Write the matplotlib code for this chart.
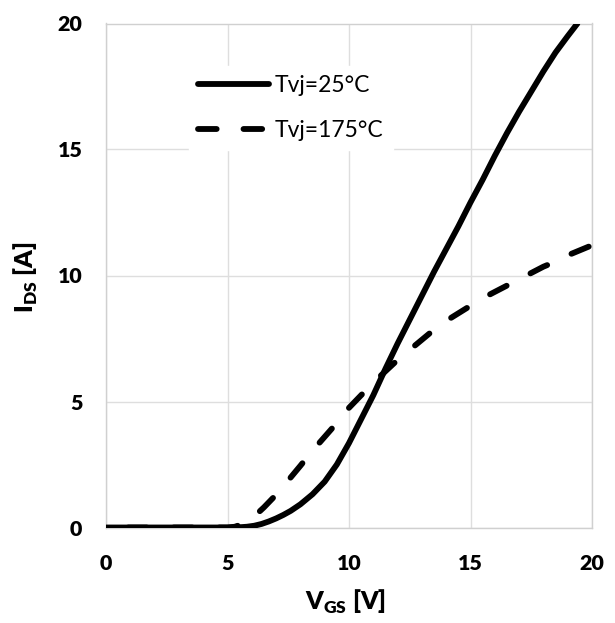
import matplotlib
matplotlib.use('Agg')
import matplotlib.pyplot as plt

# gate voltage [V] and drain current [A]
vgs_25 = [0, 2, 4, 5.0, 5.5, 5.8, 6.1, 6.4, 6.7, 7.0, 7.3, 7.6, 8.0, 8.5, 9.0,
          9.5, 10.0, 10.5, 11.0, 11.5, 12.0, 12.5, 13.0, 13.5, 14.0, 14.5,
          15.0, 15.5, 16.0, 16.5, 17.0, 17.5, 18.0, 18.5, 19.0, 19.4]
ids_25 = [0, 0, 0, 0, 0.01, 0.03, 0.07, 0.14, 0.24, 0.36, 0.5, 0.66, 0.92,
          1.32, 1.82, 2.5, 3.35, 4.3, 5.25, 6.3, 7.3, 8.25, 9.2, 10.15, 11.05,
          11.95, 12.9, 13.8, 14.75, 15.65, 16.5, 17.3, 18.1, 18.85, 19.5, 20.0]

vgs_175 = [0, 2, 4, 5.0, 5.3, 5.6, 5.9, 6.2, 6.5, 7.0, 7.5, 8.0, 8.5, 9.0, 9.5,
           10.0, 10.5, 11.0, 11.5, 12.0, 12.5, 13.0, 13.5, 14.0, 14.5, 15.0,
           15.5, 16.0, 16.5, 17.0, 17.5, 18.0, 18.5, 19.0, 19.5, 20.0]
ids_175 = [0, 0, 0, 0, 0.03, 0.13, 0.3, 0.53, 0.8, 1.3, 1.87, 2.45, 3.05, 3.6,
           4.15, 4.75, 5.25, 5.75, 6.2, 6.65, 7.05, 7.45, 7.85, 8.2, 8.5, 8.8,
           9.1, 9.35, 9.6, 9.85, 10.1, 10.35, 10.55, 10.8, 11.0, 11.2]

ticks = [0, 5, 10, 15, 20]

plt.rcParams['font.family'] = ['Lato', 'DejaVu Sans']
plt.rcParams['mathtext.fontset'] = 'custom'
plt.rcParams['mathtext.rm'] = 'Lato:heavy'
plt.rcParams['mathtext.bf'] = 'Lato:heavy'

fig = plt.figure(figsize=(6.15, 6.23), dpi=100)
ax = fig.add_axes([106 / 615, 1 - 527.5 / 623, 486 / 615, 504 / 623])

ax.plot(vgs_25, ids_25, color='black', lw=4.2, solid_capstyle='round',
        solid_joinstyle='round', label='Tvj=25°C', zorder=3)
ax.plot(vgs_175, ids_175, color='black', lw=4.2, linestyle=(4.0, (3.2, 4.6)),
        dash_capstyle='round', label='Tvj=175°C', zorder=3)

ax.set_xlim(0, 20)
ax.set_ylim(0, 20)
ax.set_xticks(ticks)
ax.set_yticks(ticks)
ax.grid(True, color='#dedede', lw=1.0, zorder=0)
ax.set_axisbelow(True)
for s in ax.spines.values():
    s.set_color('#d0d0d0')
    s.set_linewidth(1.0)
ax.tick_params(length=0, labelsize=15.4, pad=17)
ax.tick_params(axis='x', pad=19)
for lbl in ax.get_xticklabels() + ax.get_yticklabels():
    lbl.set_fontweight('heavy')

fig.text(346 / 615, 1 - 602 / 623, r'V$_{\mathrm{GS}}$ [V]', fontsize=18,
         fontweight='heavy', ha='center', va='center')
fig.text(26 / 615, 1 - 277 / 623, r'I$_{\mathrm{DS}}$ [A]', fontsize=18,
         fontweight='heavy', ha='center', va='center', rotation=90)

leg = ax.legend(loc='upper left', bbox_to_anchor=(189 / 615, 1 - 66 / 623),
                bbox_transform=fig.transFigure, frameon=True, fontsize=16.5,
                handlelength=3.1, handletextpad=0.25, labelspacing=1.05,
                borderpad=0.4, borderaxespad=0)
leg.get_frame().set_edgecolor('white')
leg.get_frame().set_facecolor('white')
leg.get_frame().set_alpha(1)
leg.get_frame().set_boxstyle('square', pad=0)
# legend dash sample starts on a dash, as in the reference
leg.get_lines()[1].set_linestyle((0, (3.2, 4.6)))

fig.savefig('out.png', dpi=100)
